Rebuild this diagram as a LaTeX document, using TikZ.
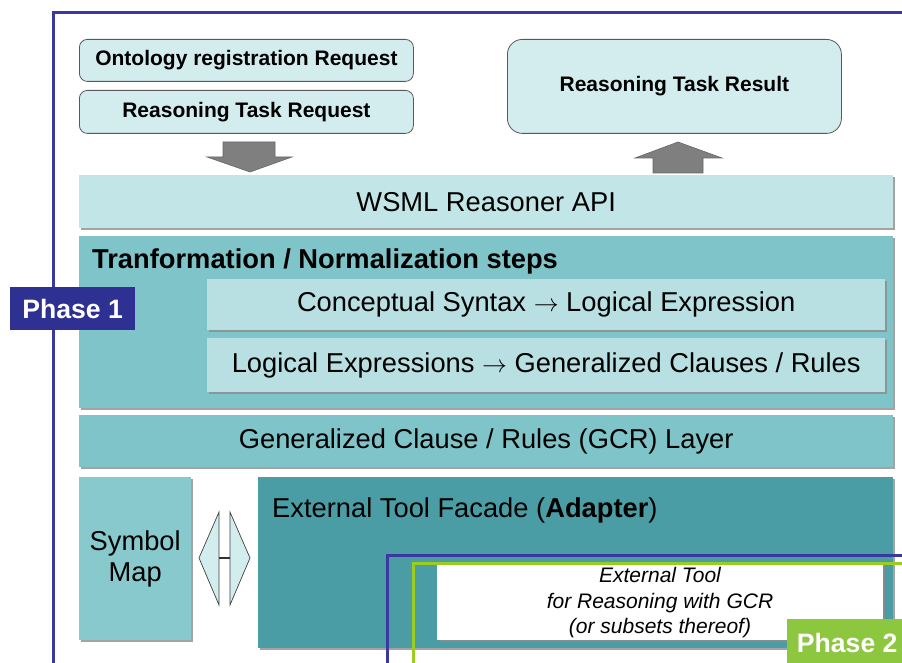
\documentclass[tikz,border=0pt]{standalone}
\usepackage{fontspec}
\setmainfont{Liberation Sans}
\usetikzlibrary{shadows}
\definecolor{frameblue}{HTML}{3A3A9E}
\definecolor{lightbox}{HTML}{D3EDEF}
\definecolor{apibar}{HTML}{C2E5E7}
\definecolor{tealmid}{HTML}{7EC4C8}
\definecolor{innerbox}{HTML}{B8DFE2}
\definecolor{symbolfill}{HTML}{88C9CD}
\definecolor{facade}{HTML}{4B9DA5}
\definecolor{phaseone}{HTML}{2E3192}
\definecolor{greenline}{HTML}{9ACD1E}
\definecolor{phasetwo}{HTML}{8DC63F}
\definecolor{arrowgray}{HTML}{7F7F7F}
\tikzset{
  topbox/.style={draw=black!65, line width=0.8pt, fill=lightbox, rounded corners=8pt,
     anchor=north west, font=\bfseries\fontsize{21}{25}\selectfont, inner sep=0pt},
  layer/.style={anchor=north west, inner sep=0pt,
     drop shadow={shadow xshift=1.5pt, shadow yshift=-2pt, fill=black!45, opacity=.8},
     font=\fontsize{27.3}{32}\selectfont},
  bigarrow/.style={fill=arrowgray, draw=black!60, line width=0.6pt},
  phaselabel/.style={anchor=north west, inner sep=0pt, text=white,
     font=\bfseries\fontsize{26.6}{30}\selectfont},
  frameline/.style={line width=3pt},
}
\begin{document}
\begin{tikzpicture}[x=1pt, y=-1pt]
\useasboundingbox (0,0) rectangle (902,663);
\fill[white] (0,0) rectangle (902,663);

% outer phase 1 frame
\draw[frameblue, frameline] (910,13) -- (53,13) -- (53,670);

% top request boxes
\node[topbox, minimum width=334, minimum height=42] (ont) at (79,39) {Ontology registration Request};
\node[topbox, minimum width=334, minimum height=43] (rtr) at (79,90) {Reasoning Task Request};
\node[topbox, rounded corners=15pt, minimum width=334, minimum height=94] (res) at (507,39) {Reasoning Task Result};

% arrows
\draw[bigarrow] (223,142) -- (275,142) -- (275,157) -- (292,157) -- (250,172) -- (207,157) -- (223,157) -- cycle;
\draw[bigarrow] (678,142) -- (722,158) -- (703,158) -- (703,173) -- (653,173) -- (653,158) -- (635,158) -- cycle;

% API bar
\node[layer, fill=apibar, minimum width=814, minimum height=53] (api) at (79,175) {WSML Reasoner API};

% transformation block
\node[layer, fill=tealmid, minimum width=814, minimum height=172] (trans) at (79,236) {};
\node[anchor=west, inner sep=0pt, font=\bfseries\fontsize{27.3}{30}\selectfont] (ttitle) at (92,261) {Tranformation / Normalization steps};
\node[layer, fill=innerbox, minimum width=678, minimum height=51] (cs) at (207,279) {Conceptual Syntax $\rightarrow$ Logical Expression};
\node[layer, fill=innerbox, minimum width=678, minimum height=54] (le) at (207,338) {Logical Expressions $\rightarrow$ Generalized Clauses / Rules};

% phase 1 label
\node[phaselabel, fill=phaseone, minimum width=125, minimum height=43] (ph1) at (10,287) {Phase 1};

% GCR layer
\node[layer, fill=tealmid, minimum width=814, minimum height=52] (gcr) at (79,415) {Generalized Clause / Rules (GCR) Layer};

% symbol map
\node[layer, fill=symbolfill, minimum width=112, minimum height=163, align=center,
      font=\fontsize{27.3}{31}\selectfont] (sym) at (79,477) {Symbol\\Map};

% facade
\node[layer, fill=facade, minimum width=635, minimum height=171] (fac) at (258,477) {};
\node[anchor=west, inner sep=0pt, font=\fontsize{27.3}{30}\selectfont] (factitle) at (272,510) {External Tool Facade (\textbf{Adapter})};

% double arrow between symbol map and facade
\draw[fill=lightbox, draw=black!75, line width=0.7pt] (219,512) -- (199,558) -- (219,605) -- cycle;
\draw[fill=lightbox, draw=black!75, line width=0.7pt] (230,512) -- (250,558) -- (230,605) -- cycle;
\draw[black!80, line width=1.2pt] (219,558) -- (230,558);

% external tool
\node[anchor=north west, inner sep=0pt, fill=white, minimum width=446, minimum height=77,
      drop shadow={shadow xshift=1.5pt, shadow yshift=-2pt, fill=black!45, opacity=.8}] (ext) at (437,563) {};
\node[align=center, inner sep=0pt, font=\itshape\fontsize{21}{25.5}\selectfont] (exttext) at (660,603)
  {External Tool\\for Reasoning with GCR\\(or subsets thereof)};

% phase 2 frames
\draw[frameblue, frameline] (910,555) -- (387,555) -- (387,670);
\draw[greenline, frameline] (910,563) -- (413,563) -- (413,670);

% phase 2 label
\node[phaselabel, fill=phasetwo, minimum width=120, minimum height=48] (ph2) at (787,619) {Phase 2};
\end{tikzpicture}
\end{document}
